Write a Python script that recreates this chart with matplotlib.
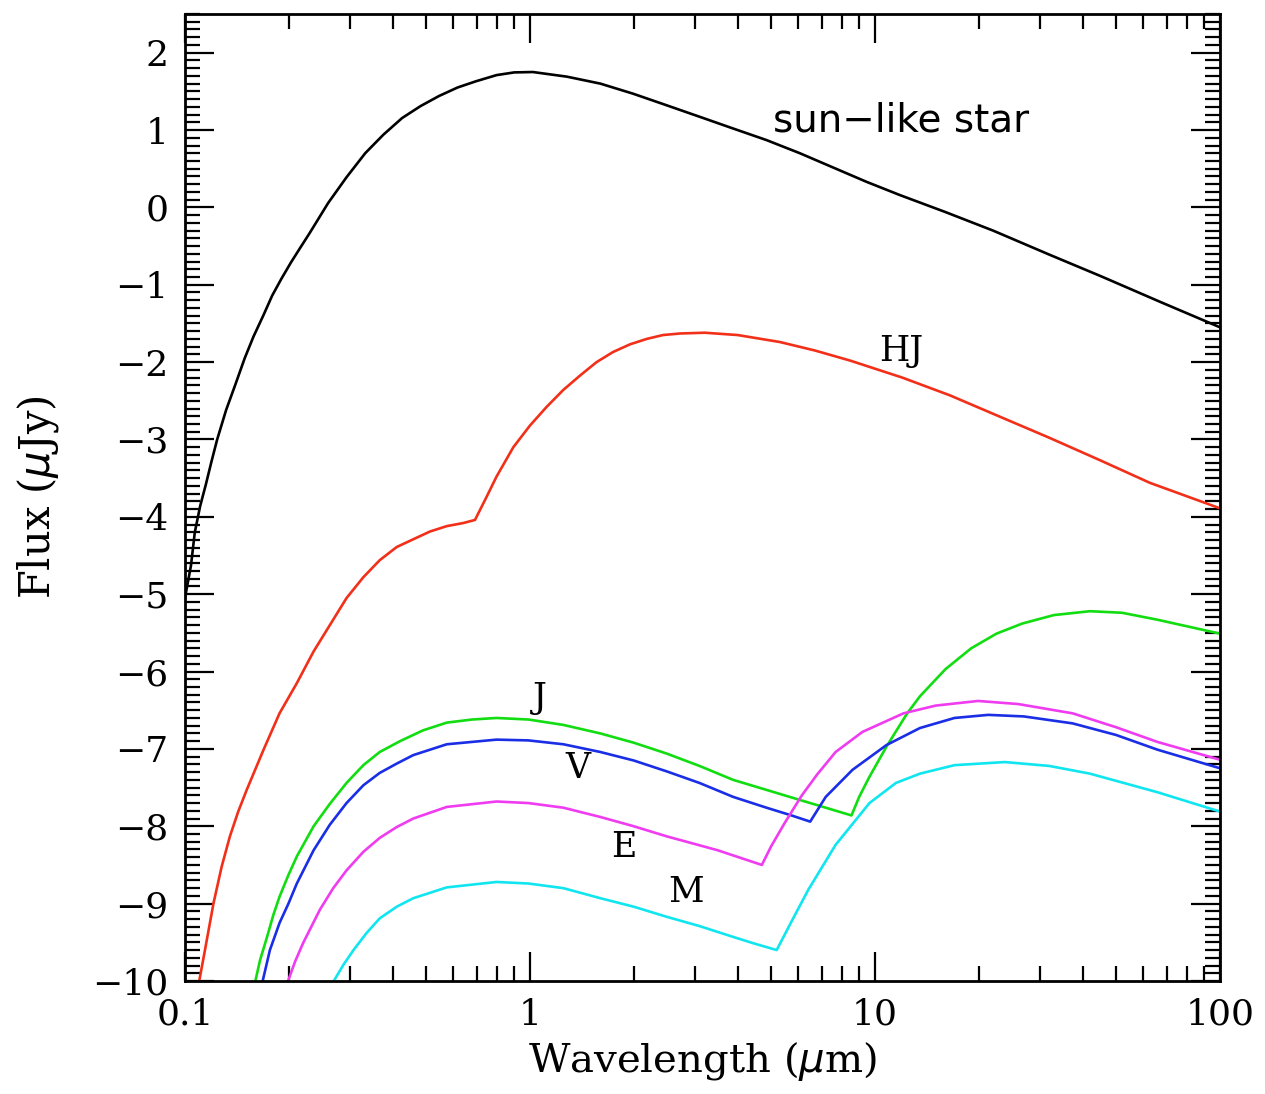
import matplotlib
matplotlib.use("Agg")
import matplotlib.pyplot as plt
from matplotlib.ticker import MultipleLocator, LogLocator, NullFormatter, FixedLocator, FixedFormatter

# sun-like star
star_x = [0.1, 0.1041, 0.1068, 0.1107, 0.115, 0.1193, 0.124, 0.1316, 0.140, 0.149, 0.158, 0.1686,
          0.179, 0.1905, 0.203, 0.216, 0.230, 0.260, 0.294, 0.333, 0.376, 0.426, 0.482, 0.545,
          0.617, 0.697, 0.80, 0.90, 1.02, 1.28, 1.60, 1.99, 2.49, 3.11, 3.88, 4.85, 6.06, 7.57,
          9.46, 11.8, 16.0, 22.0, 32.0, 45.2, 67.0, 100]
star_y = [-5.05, -4.63, -4.20, -3.86, -3.58, -3.29, -3.00, -2.62, -2.29, -1.95, -1.67, -1.40,
          -1.14, -0.92, -0.71, -0.52, -0.33, 0.056, 0.39, 0.70, 0.94, 1.155, 1.31, 1.44,
          1.55, 1.63, 1.71, 1.745, 1.75, 1.69, 1.60, 1.47, 1.32, 1.17, 1.02, 0.87, 0.70, 0.515,
          0.33, 0.16, -0.06, -0.30, -0.61, -0.89, -1.22, -1.55]

# hot Jupiter
hj_x = [0.110, 0.1143, 0.121, 0.1278, 0.135, 0.1427, 0.151, 0.169, 0.188, 0.211, 0.236, 0.294,
        0.329, 0.367, 0.411, 0.459, 0.513, 0.574, 0.641, 0.693, 0.749, 0.800, 0.895, 1.0, 1.117,
        1.249, 1.40, 1.56, 1.74, 1.95, 2.18, 2.43, 2.72, 3.21, 4.0, 5.3, 6.7, 8.47, 12.0, 16.5,
        24.0, 32.1, 45.0, 62.6, 100]
hj_y = [-10.0, -9.60, -8.995, -8.52, -8.13, -7.81, -7.53, -7.01, -6.54, -6.15, -5.74, -5.05,
        -4.78, -4.56, -4.39, -4.29, -4.19, -4.12, -4.08, -4.04, -3.74, -3.48, -3.10, -2.82, -2.58,
        -2.36, -2.17, -2.00, -1.87, -1.77, -1.70, -1.65, -1.63, -1.62, -1.65, -1.74, -1.85, -1.98,
        -2.20, -2.43, -2.74, -2.98, -3.27, -3.56, -3.89]

# Jupiter
j_x = [0.160, 0.1651, 0.173, 0.1803, 0.188, 0.1995, 0.211, 0.236, 0.263, 0.294, 0.329, 0.367,
       0.42, 0.49, 0.574, 0.68, 0.80, 0.99, 1.25, 1.60, 2.0, 2.49, 3.1, 3.88, 4.85, 6.06, 7.2,
       8.55, 9.0, 9.64, 10.8, 12.4, 13.5, 16.0, 19.0, 22.5, 26.7, 33.0, 42.0, 52.0, 65.9, 100]
j_y = [-10, -9.73, -9.43, -9.15, -8.91, -8.63, -8.39, -8.0, -7.71, -7.44, -7.21, -7.04,
       -6.90, -6.76, -6.66, -6.62, -6.60, -6.62, -6.69, -6.80, -6.92, -7.06, -7.22, -7.40, -7.53,
       -7.66, -7.76, -7.86, -7.62, -7.36, -6.97, -6.54, -6.32, -5.97, -5.70, -5.51, -5.38, -5.27,
       -5.22, -5.24, -5.33, -5.51]

# Venus
v_x = [0.168, 0.1763, 0.188, 0.1995, 0.211, 0.236, 0.263, 0.294, 0.329, 0.367, 0.411, 0.459,
       0.574, 0.80, 0.99, 1.25, 1.60, 2.0, 2.49, 3.1, 3.88, 4.85, 5.73, 6.49, 7.2, 8.61, 10.8,
       13.5, 17.0, 21.3, 27.0, 37.4, 50.0, 65.9, 100]
v_y = [-10, -9.60, -9.25, -9.0, -8.74, -8.31, -7.98, -7.70, -7.47, -7.31, -7.19, -7.08,
       -6.94, -6.88, -6.89, -6.94, -7.04, -7.15, -7.29, -7.44, -7.62, -7.76, -7.86, -7.94, -7.62,
       -7.27, -6.95, -6.73, -6.60, -6.56, -6.58, -6.67, -6.82, -7.01, -7.25]

# Earth
e_x = [0.199, 0.2085, 0.220, 0.246, 0.269, 0.294, 0.329, 0.367, 0.411, 0.459, 0.574, 0.80,
       0.99, 1.25, 1.60, 2.0, 2.49, 3.5, 4.70, 5.0, 5.47, 6.14, 6.8, 7.69, 9.2, 12.1, 15.0,
       19.9, 26.0, 37.4, 50.0, 65.9, 100]
e_y = [-10, -9.75, -9.51, -9.08, -8.80, -8.57, -8.33, -8.15, -8.01, -7.90, -7.75, -7.68,
       -7.70, -7.76, -7.88, -8.00, -8.13, -8.31, -8.50, -8.26, -7.96, -7.60, -7.33, -7.04, -6.78,
       -6.54, -6.44, -6.38, -6.42, -6.54, -6.72, -6.91, -7.14]

# Mars
m_x = [0.270, 0.288, 0.308, 0.336, 0.367, 0.411, 0.459, 0.574, 0.80, 0.99, 1.25, 1.60, 2.0,
       2.49, 3.1, 3.88, 4.5, 5.19, 5.7, 6.41, 7.69, 9.64, 11.5, 13.5, 17.0, 23.8, 32.0, 42.0,
       65.9, 100]
m_y = [-10, -9.79, -9.60, -9.38, -9.19, -9.04, -8.93, -8.79, -8.72, -8.74, -8.80, -8.93, -9.04,
       -9.17, -9.29, -9.43, -9.52, -9.60, -9.25, -8.82, -8.24, -7.70, -7.44, -7.32, -7.21, -7.17,
       -7.22, -7.32, -7.56, -7.81]

xticks = [0.1, 1, 10, 100]
xticklabels = ["0.1", "1", "10", "100"]
yticks = [2, 1, 0, -1, -2, -3, -4, -5, -6, -7, -8, -9, -10]

plt.rcParams["font.family"] = "DejaVu Serif"

fig = plt.figure(figsize=(12.65, 10.94), dpi=100)
ax = fig.add_axes([0.1462, 0.1033, 0.8182, 0.8839])

lw = 1.9
ax.plot(star_x, star_y, color="black", lw=lw)
ax.plot(hj_x, hj_y, color="#f2301a", lw=lw)
ax.plot(j_x, j_y, color="#11dd11", lw=lw)
ax.plot(v_x, v_y, color="#1a2ee6", lw=lw)
ax.plot(e_x, e_y, color="#f03cf0", lw=lw)
ax.plot(m_x, m_y, color="#11e6f0", lw=lw)

ax.set_xscale("log")
ax.set_xlim(0.1, 100)
ax.set_ylim(-10, 2.5)

ax.xaxis.set_major_locator(FixedLocator(xticks))
ax.xaxis.set_major_formatter(FixedFormatter(xticklabels))
ax.xaxis.set_minor_locator(LogLocator(base=10, subs=range(2, 10)))
ax.xaxis.set_minor_formatter(NullFormatter())
ax.yaxis.set_major_locator(FixedLocator(yticks))
ax.yaxis.set_minor_locator(MultipleLocator(0.1))

ax.tick_params(which="both", direction="in", top=True, right=True, width=1.6, labelsize=26)
ax.tick_params(which="major", length=21)
ax.tick_params(which="minor", length=11)
ax.tick_params(axis="x", pad=12)
ax.tick_params(axis="y", pad=12)
for s in ax.spines.values():
    s.set_linewidth(2.0)

ax.set_xlabel("Wavelength ($\\mu$m)", fontsize=29, labelpad=6)
ax.set_ylabel("Flux ($\\mu$Jy)", fontsize=30, labelpad=22)

ax.text(5.06, 1.125, "sun\u2212like star", fontsize=28, family="DejaVu Sans", ha="left", va="center")
ax.text(11.9, -1.85, "HJ", fontsize=25, ha="center", va="center")
ax.text(1.07, -6.34, "J", fontsize=25, ha="center", va="center")
ax.text(1.38, -7.25, "V", fontsize=25, ha="center", va="center")
ax.text(1.87, -8.27, "E", fontsize=25, ha="center", va="center")
ax.text(2.83, -8.85, "M", fontsize=25, ha="center", va="center")

fig.savefig("out.png", dpi=100)
